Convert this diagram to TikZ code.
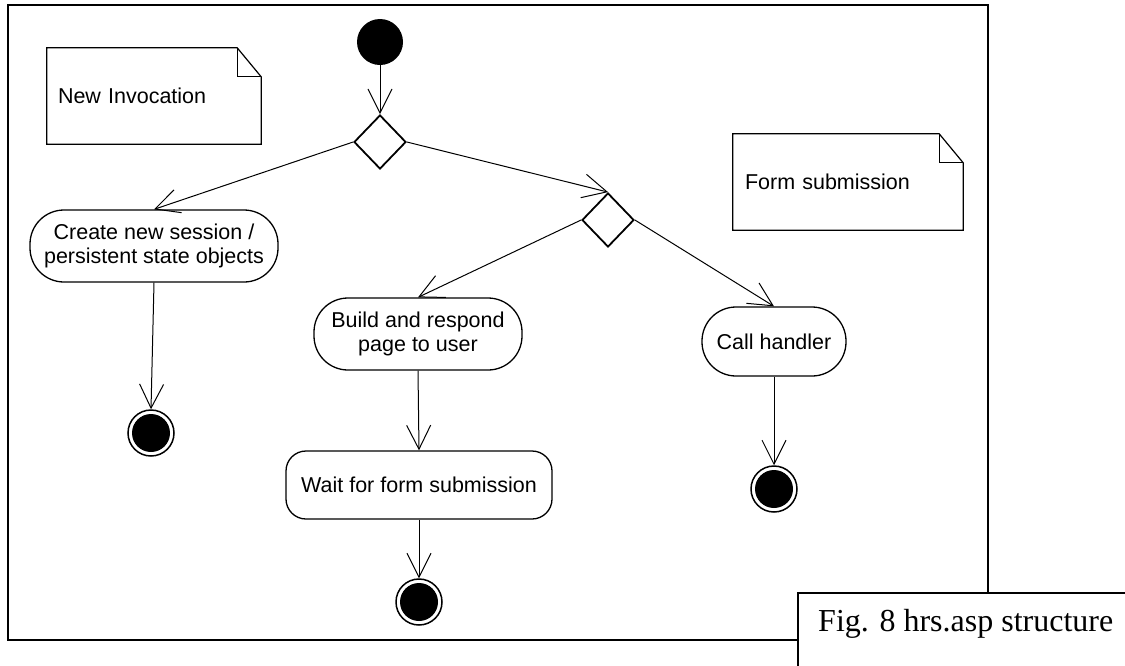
\documentclass[tikz,border=0pt]{standalone}
\usepackage{fontspec}
\setmainfont{Liberation Sans}
\newfontfamily\capfont{Liberation Serif}
\usetikzlibrary{
  arrows.meta,
  calc,
  positioning,
  shapes.geometric,
}
\tikzstyle{flow} = [
  -{Straight Barb[length=24pt,width=24pt]},
  line width=1pt,
]
\tikzstyle{activity} = [
  draw,
  rectangle,
  rounded corners=34pt,
  line width=1.3pt,
  align=center,
  inner sep=0pt,
  font=\fontsize{21.5}{24.5}\selectfont,
]
\tikzstyle{choice} = [draw, diamond, line width=1.8pt, minimum width=52pt, minimum height=54pt, inner sep=0pt]
\tikzstyle{initial} = [circle, fill=black, minimum size=46pt, inner sep=0pt]
\tikzstyle{final} = [
  circle,
  draw,
  line width=1.5pt,
  minimum size=46pt,
  inner sep=0pt,
  path picture={\fill[black] (path picture bounding box.center) circle (19pt);},
]
\tikzstyle{note} = [rectangle, align=left, inner sep=0pt, font=\fontsize{21.5}{24.5}\selectfont]
\tikzstyle{noteline} = [line width=1.2pt]

\begin{document}
\begin{tikzpicture}[x=1pt,y=-1pt]
      \useasboundingbox (0,0) rectangle (1125,665);

      % outer frame
      \draw[line width=2pt] (8,5) rectangle (988,640);

      \node[initial]    (start)   at (380,42)     {};
      \node[choice]     (d1)      at (380,142)    {};
      \node[choice]     (d2)      at (608,220)    {};

      \node[activity,minimum width=248pt,minimum height=72pt]    (create)  at (154,246)   {Create new session /\\persistent state objects};
      \node[activity,minimum width=208pt,minimum height=72pt]    (build)   at (418,334)   {Build and respond\\page to user};
      \node[activity,minimum width=144pt,minimum height=69pt]    (call)    at (774,341.5) {Call handler};
      \node[activity,minimum width=266pt,minimum height=68pt,rounded corners=20pt]    (wait)    at (419,485)   {Wait for form submission};

      \node[final]      (end1)    at (151,433)    {};
      \node[final]      (end2)    at (419,602)    {};
      \node[final]      (end3)    at (774,489)    {};

      \draw[flow] (start) -- (d1.north);
      \draw[flow] (d1.west) -- (create.north);
      \draw[flow] (d1.east) -- (d2.north);
      \draw[flow] (d2.west) -- (build.north);
      \draw[flow] (d2.east) -- (call.north);
      \draw[flow] (create.south) -- (end1.north);
      \draw[flow] (build.south) -- (wait.north);
      \draw[flow] (wait.south) -- (end2.north);
      \draw[flow] (call.south) -- (end3.north);

      % notes
      \node[note,minimum width=214pt,minimum height=96pt,text width=192pt,inner xsep=11pt]    (newinv)   at (154,96)   {New Invocation};
      \node[note,minimum width=230pt,minimum height=96pt,text width=206pt,inner xsep=12pt]    (formsub)  at (848,182)  {Form submission};
      \foreach \n in {newinv,formsub} {
        \draw[noteline] (\n.north west) -- ([xshift=-24pt]\n.north east) -- ([yshift=-29pt]\n.north east) -- (\n.south east) -- (\n.south west) -- cycle;
        \draw[noteline] ([xshift=-24pt]\n.north east) |- ([yshift=-29pt]\n.north east);
      }

      % caption
      \node[draw,fill=white,line width=2pt,rectangle,anchor=north west,minimum width=340pt,minimum height=90pt]    (capbox)   at (797,592)  {};
      \node[anchor=base west,inner sep=0pt,font=\capfont\fontsize{32}{36}\selectfont]    (caption)  at (818,631)  {Fig. 8 hrs.asp structure};

    \end{tikzpicture}
\end{document}
